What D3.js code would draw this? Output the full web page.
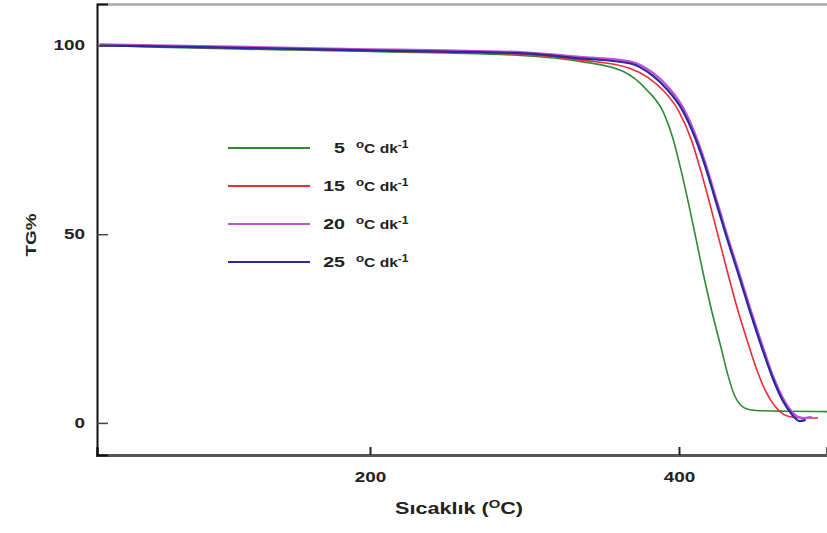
<!DOCTYPE html>
<html>
<head>
<meta charset="utf-8">
<script src="https://cdn.jsdelivr.net/npm/d3@7"></script>
<style>
  body { margin: 0; background: #fff; }
  text { font-family: "Liberation Sans", Arial, sans-serif; font-weight: bold; fill: #222; }
</style>
</head>
<body>
<div id="chart"></div>
<script>
// heating rates (legend)
var rates = ["5", "15", "20", "25"];
var colors = ["#2f8a34", "#ee2a35", "#c24fd6", "#2a2a9c"];

// temperature (C) / TG%
var temp5  = [25, 60, 100, 150, 200, 250, 300, 336, 364, 379, 390, 396, 401, 406, 411, 416, 421, 427, 432, 436, 440, 444, 450, 470, 496];
var tg5    = [100, 99.6, 99.2, 98.8, 98.4, 98.0, 97.3, 95.8, 93.1, 88.3, 82.2, 75.5, 67.5, 58.5, 48.8, 39, 30, 20.3, 12.2, 7.2, 4.7, 3.7, 3.3, 3.1, 3.0];

var temp15 = [25, 100, 150, 200, 250, 300, 336, 368, 380, 390, 400, 408, 414, 420, 426, 432, 438, 444, 450, 456, 462, 468, 474, 482, 490];
var tg15   = [100, 99.4, 99.0, 98.6, 98.2, 97.6, 96.2, 94.0, 91.5, 88, 82.5, 75, 67, 58, 48.5, 39, 30, 22, 14.5, 8.5, 4.5, 2.2, 1.5, 1.3, 1.3];

var temp20 = [25, 100, 150, 200, 250, 300, 336, 368, 383, 392, 402, 410, 417, 424, 431, 438, 446, 454, 461, 467, 473, 477, 481, 486];
var tg20   = [100.3, 99.8, 99.4, 99.0, 98.7, 98.2, 97.0, 95.8, 92.8, 89.5, 84, 77, 69, 59.5, 50, 41, 30.5, 20.5, 12.3, 6.8, 3, 1.6, 1.3, 1.6];

var temp25 = [25, 100, 150, 200, 250, 300, 336, 368, 383, 392, 402, 410, 417, 424, 431, 438, 446, 454, 461, 467, 473, 478, 482];
var tg25   = [100, 99.5, 99.1, 98.7, 98.4, 97.9, 96.6, 95.3, 92, 88.5, 83, 76, 68, 58.5, 49, 40, 29.5, 19.5, 11.5, 6, 2.3, 0.5, 0.8];

var xTicks = [200, 400];
var yTicks = [0, 50, 100];

var svgWidth = 827;
var svgHeight = 533;
// the source picture is stretched sideways, text too
var stretch = 1.35;

var svg = d3.select("#chart")
  .append("svg")
  .attr("width", svgWidth)
  .attr("height", svgHeight);

var xScale = d3.scaleLinear().domain([23.3, 495.8]).range([97, 827]);
var yScale = d3.scaleLinear().domain([-8.5, 111]).range([455, 4]);

// top frame line
svg.append("line")
  .attr("x1", 97).attr("x2", 827)
  .attr("y1", 4.5).attr("y2", 4.5)
  .attr("stroke", "#a8a8a8")
  .attr("stroke-width", 2.5);

// curves
var series = [
  { t: temp5, v: tg5 },
  { t: temp15, v: tg15 },
  { t: temp20, v: tg20 },
  { t: temp25, v: tg25 }
];

var line = d3.line()
  .x(d => xScale(d[0]))
  .y(d => yScale(d[1]))
  .curve(d3.curveMonotoneX);

svg.append("clipPath").attr("id", "plot")
  .append("rect").attr("x", 97).attr("y", 5).attr("width", 730).attr("height", 450);

var curves = svg.append("g").attr("clip-path", "url(#plot)");
// draw 20 before 25 so the blue sits on top of the magenta
[0, 1, 2, 3].forEach(function(i) {
  var pts = series[i].t.map((t, j) => [t, series[i].v[j]]);
  curves.append("path")
    .datum(pts)
    .attr("fill", "none")
    .attr("stroke", colors[i])
    .attr("stroke-width", i >= 2 ? 2.2 : 1.6)
    .attr("d", line);
});

// x axis
var xAxis = svg.append("g")
  .attr("transform", "translate(0,455)")
  .call(d3.axisBottom(xScale).tickValues(xTicks).tickSize(-8).tickPadding(17));
xAxis.select(".domain").attr("stroke", "#555").attr("stroke-width", 3);
xAxis.selectAll(".tick line").attr("stroke", "#222").attr("stroke-width", 2);
xAxis.selectAll("text").attr("font-size", 14).attr("fill", "#222")
  .attr("font-family", "Liberation Sans, Arial, sans-serif").attr("font-weight", "bold")
  .attr("transform", `scale(${stretch},1)`);

// y axis
var yAxis = svg.append("g")
  .attr("transform", "translate(97,0)")
  .call(d3.axisLeft(yScale).tickValues(yTicks).tickSize(-11));
yAxis.select(".domain").attr("stroke", "#111").attr("stroke-width", 2);
yAxis.selectAll(".tick line").attr("stroke", "#444").attr("stroke-width", 1.5);
yAxis.selectAll("text").attr("font-size", 14).attr("fill", "#222")
  .attr("font-family", "Liberation Sans, Arial, sans-serif").attr("font-weight", "bold")
  .attr("x", -12 / stretch)
  .attr("transform", `scale(${stretch},1)`);

// axis titles
svg.append("text")
  .attr("transform", `translate(36,235) rotate(-90) scale(${stretch},1)`)
  .attr("text-anchor", "middle")
  .attr("font-size", 14)
  .text("TG%");

var xTitle = svg.append("text")
  .attr("transform", `translate(459,514) scale(${stretch},1)`)
  .attr("text-anchor", "middle")
  .attr("font-size", 16);
xTitle.append("tspan").text("Sıcaklık (");
xTitle.append("tspan").attr("font-size", 11).attr("dy", -6).text("O");
xTitle.append("tspan").attr("dy", 6).text("C)");

// legend
var legendY = [148, 186, 224, 262];
var legend = svg.append("g");
rates.forEach(function(r, i) {
  legend.append("line")
    .attr("x1", 228).attr("x2", 310)
    .attr("y1", legendY[i]).attr("y2", legendY[i])
    .attr("stroke", colors[i])
    .attr("stroke-width", 2);
  legend.append("text")
    .attr("transform", `translate(345,${legendY[i] + 5}) scale(1.4,1)`)
    .attr("text-anchor", "end")
    .attr("font-size", 14)
    .text(r);
  var u = legend.append("text")
    .attr("transform", `translate(356,${legendY[i] + 5}) scale(1.2,1)`)
    .attr("font-size", 13);
  u.append("tspan").attr("font-size", 11).attr("dy", -5).text("o");
  u.append("tspan").attr("dy", 5).text("C dk");
  u.append("tspan").attr("font-size", 10).attr("dy", -5).text("-1");
});
</script>
</body>
</html>
